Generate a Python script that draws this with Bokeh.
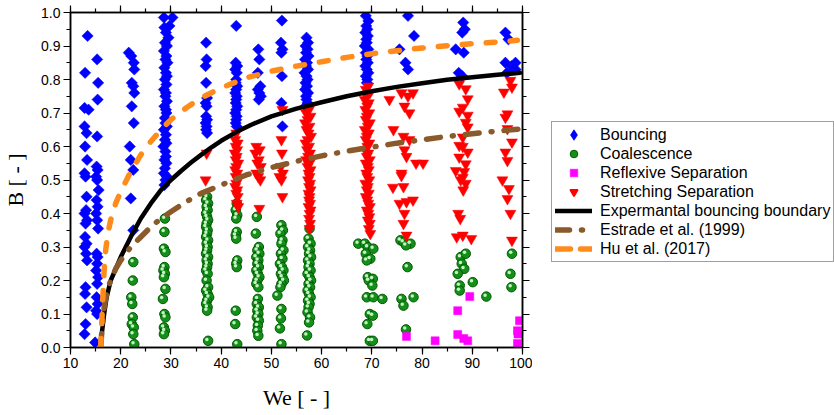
import numpy as np
from bokeh.plotting import figure
from bokeh.layouts import row
from bokeh.models import Range1d, LinearAxis, SingleIntervalTicker, Legend, LegendItem, NumeralTickFormatter
from bokeh.embed import file_html
from bokeh.resources import INLINE

# ---------------- data (We, B) ----------------
bouncing = [
    # We ~ 13
    (13.4,0.93),(12.9,0.82),(12.8,0.715),(13.6,0.71),(12.8,0.66),(13.2,0.64),(12.9,0.60),(13.3,0.56),
    (12.8,0.52),(13.0,0.51),(13.2,0.45),(13.1,0.41),(12.8,0.40),(13.3,0.38),(13.0,0.37),(12.9,0.33),
    (13.2,0.31),(12.8,0.30),(13.1,0.28),(13.3,0.26),(13.0,0.18),(12.9,0.16),(13.2,0.12),(13.0,0.07),(12.8,0.04),
    # We ~ 15
    (15.3,0.86),(15.5,0.79),(15.4,0.74),(15.3,0.63),(15.2,0.54),(15.4,0.53),(15.1,0.51),(15.3,0.50),
    (15.6,0.47),(15.2,0.44),(15.4,0.42),(15.1,0.40),(15.3,0.38),(15.5,0.355),(15.2,0.28),(15.4,0.27),
    (15.3,0.25),(15.1,0.23),(15.5,0.21),(15.3,0.19),(15.2,0.15),(15.4,0.13),(15.1,0.11),(15.3,0.10),(14.9,0.015),
    # We ~ 22
    (21.6,0.88),(22.1,0.87),(22.6,0.85),(22.7,0.83),(22.2,0.79),(22.5,0.78),(22.7,0.76),(22.2,0.72),
    (22.6,0.67),(21.8,0.60),(22.0,0.56),(22.5,0.53),(22.0,0.445),(22.5,0.35),
    # We ~ 29
    (28.6,0.985),(30.3,0.985),(29.7,0.96),(28.7,0.955),(29.0,0.94),(29.5,0.925),(28.8,0.91),(29.2,0.90),
    (28.6,0.885),(29.1,0.87),(28.9,0.86),(29.3,0.85),(28.7,0.835),(29.0,0.82),(29.2,0.81),(28.8,0.80),
    (29.1,0.785),(28.6,0.77),(29.0,0.76),(28.9,0.75),(29.2,0.735),(28.7,0.72),(29.0,0.71),(29.1,0.70),
    (28.8,0.685),(28.9,0.67),(29.2,0.66),(28.6,0.65),(29.0,0.635),(28.8,0.62),(29.1,0.61),(28.5,0.60),
    (28.9,0.585),(29.0,0.57),(28.7,0.56),(29.1,0.55),(28.8,0.535),(28.6,0.52),(29.2,0.51),(28.9,0.50),(28.7,0.485),
    # We ~ 37
    (37.0,0.91),(37.1,0.86),(36.9,0.84),(37.0,0.79),(37.2,0.745),(36.9,0.73),(37.1,0.72),(37.0,0.69),
    (37.2,0.68),(36.9,0.67),(37.1,0.66),(37.0,0.65),(37.2,0.64),
    # We ~ 43
    (43.0,0.96),(42.9,0.85),(43.2,0.84),(42.8,0.83),(43.1,0.82),(43.0,0.80),(42.9,0.79),(43.2,0.78),
    (43.0,0.77),(42.8,0.76),(43.1,0.75),(43.0,0.74),(42.9,0.73),(43.2,0.72),(43.0,0.71),(42.8,0.70),
    (43.1,0.69),(43.0,0.68),(42.9,0.67),(43.1,0.66),
    # We ~ 47
    (47.4,0.89),(47.6,0.86),(47.3,0.82),(47.8,0.78),(47.3,0.77),(47.6,0.76),(47.9,0.75),(47.5,0.74),
    # We ~ 52
    (52.1,0.976),(51.9,0.91),(52.2,0.89),(52.0,0.88),(52.1,0.81),(52.0,0.73),(52.2,0.66),
    # We ~ 57
    (57.0,0.925),(57.3,0.91),(56.8,0.90),(57.2,0.89),(56.9,0.88),(57.4,0.87),(56.7,0.86),(57.1,0.85),
    (56.9,0.84),(57.3,0.83),(56.6,0.82),(57.0,0.81),(57.2,0.80),(56.8,0.79),(57.1,0.78),(56.7,0.77),
    (57.3,0.76),(56.9,0.75),(57.0,0.74),(57.2,0.73),(56.8,0.72),
    # We ~ 69
    (68.8,0.99),(69.3,0.975),(68.9,0.96),(69.1,0.95),(68.7,0.94),(69.2,0.93),(68.9,0.92),(69.0,0.91),
    (68.6,0.90),(69.3,0.89),(68.8,0.88),(69.1,0.87),(68.9,0.86),(69.2,0.85),(68.7,0.84),(69.0,0.83),
    (69.3,0.82),(68.8,0.81),(69.1,0.80),(69.0,0.79),
    # We ~ 77
    (77.2,0.99),(78.4,0.93),(75.5,0.89),(76.7,0.85),(77.2,0.83),
    # We ~ 88
    (88.2,0.97),(88.5,0.95),(88.0,0.94),(86.7,0.89),(88.3,0.88),(87.3,0.82),(88.0,0.81),
    # We ~ 97
    (96.6,0.94),(97.2,0.92),(96.6,0.85),(97.8,0.84),(98.6,0.85),(98.6,0.83),(96.9,0.82),
]

coalescence = [
    # We ~ 22
    (22.5,0.255),(22.4,0.20),(22.1,0.15),(22.3,0.13),(22.4,0.09),(22.2,0.07),(22.6,0.06),(22.5,0.04),(22.7,0.01),
    # We ~ 28.5
    (28.8,0.385),(28.7,0.345),(28.6,0.295),(28.9,0.285),(28.7,0.24),(28.5,0.23),(28.8,0.22),(28.6,0.21),
    (28.9,0.175),(28.4,0.145),(28.7,0.10),(28.9,0.09),(28.6,0.06),(28.8,0.05),(28.6,0.04),
    # We ~ 37
    (37.2,0.45),(37.0,0.44),(37.4,0.43),(37.1,0.42),(37.3,0.41),(37.0,0.40),(37.2,0.39),(37.4,0.38),
    (37.1,0.37),(37.0,0.36),(37.3,0.35),(37.2,0.34),(37.0,0.33),(37.4,0.32),(37.1,0.31),(37.3,0.30),
    (37.2,0.29),(37.0,0.28),(37.4,0.27),(37.1,0.26),(37.3,0.25),(37.2,0.24),(37.0,0.23),(37.3,0.22),
    (37.1,0.20),(37.4,0.18),(37.0,0.17),(37.3,0.16),(37.6,0.15),(37.2,0.14),(37.0,0.13),(37.3,0.12),
    (37.2,0.11),(37.4,0.02),
    # We ~ 43
    (43.1,0.43),(42.9,0.41),(43.2,0.395),(43.0,0.385),(43.1,0.345),(42.9,0.335),(43.0,0.325),(43.2,0.26),
    (43.0,0.25),(43.1,0.24),(42.9,0.11),(42.8,0.07),(43.2,0.01),
    # We ~ 47
    (47.1,0.39),(46.9,0.34),(47.5,0.30),(47.2,0.29),(47.6,0.28),(47.0,0.27),(47.4,0.26),(47.2,0.25),
    (47.5,0.24),(47.0,0.23),(47.3,0.22),(47.6,0.21),(47.2,0.20),(47.0,0.19),(47.4,0.18),(47.3,0.145),
    (47.1,0.13),(47.5,0.12),(47.2,0.11),(47.4,0.10),(47.1,0.09),(47.5,0.08),(47.3,0.065),(47.2,0.05),(47.4,0.035),
    # We ~ 52
    (52.0,0.365),(52.3,0.35),(51.8,0.34),(52.2,0.32),(52.0,0.31),(52.4,0.29),(51.9,0.28),(52.2,0.265),
    (51.7,0.25),(52.1,0.24),(52.4,0.23),(51.9,0.22),(52.2,0.21),(52.5,0.20),(52.0,0.19),(51.8,0.18),
    (51.2,0.155),(52.0,0.115),(51.9,0.087),(51.7,0.057),(52.0,0.01),
    # We ~ 57.5
    (57.6,0.355),(57.4,0.325),(57.8,0.31),(57.3,0.30),(57.7,0.29),(57.5,0.28),(57.9,0.27),(57.3,0.26),
    (57.6,0.25),(57.4,0.24),(57.8,0.23),(57.2,0.22),(57.6,0.21),(57.9,0.20),(57.4,0.19),(57.7,0.18),
    (57.2,0.17),(57.5,0.16),(57.8,0.15),(57.3,0.14),(57.6,0.13),(57.4,0.12),(57.2,0.105),(57.7,0.09),
    (57.5,0.075),(57.1,0.036),
    # We ~ 69
    (67.3,0.31),(68.6,0.31),(69.2,0.30),(70.3,0.295),(68.8,0.28),(69.7,0.265),(69.0,0.26),(69.2,0.21),
    (70.2,0.205),(69.4,0.20),(70.1,0.185),(69.0,0.15),(70.3,0.15),(69.6,0.10),(70.2,0.095),(69.1,0.07),
    (69.6,0.02),(70.2,0.02),
    (72.1,0.145),
    # We ~ 77
    (75.7,0.32),(76.3,0.315),(77.7,0.31),(76.8,0.305),(77.1,0.24),(78.3,0.15),(75.9,0.145),(76.3,0.125),(76.8,0.054),
    # We ~ 88
    (87.7,0.27),(88.7,0.28),(87.9,0.25),(88.4,0.235),(87.1,0.22),(90.1,0.195),(87.5,0.185),(87.5,0.17),
    (92.8,0.152),
    # We ~ 98
    (97.9,0.28),(97.6,0.22),(97.8,0.18),
]

reflexive = [
    (76.9,0.033),(82.6,0.02),(87.1,0.11),(89.5,0.152),(87.1,0.039),(88.3,0.027),(89.1,0.02),
    (99.4,0.08),(99.0,0.05),(99.1,0.04),(99.0,0.012),
]

stretching = [
    (37.1,0.58),(36.9,0.50),
    # We ~ 43
    (43.0,0.64),(42.8,0.62),(43.3,0.61),(42.9,0.60),(43.2,0.59),(42.7,0.58),(43.1,0.57),(42.9,0.56),
    (43.4,0.55),(43.0,0.54),(42.8,0.53),(43.2,0.52),(42.9,0.51),(43.3,0.50),(43.0,0.49),(42.8,0.48),
    (43.2,0.47),(43.0,0.46),(43.3,0.45),(43.1,0.43),(43.4,0.42),
    # We ~ 47
    (47.0,0.60),(47.7,0.59),(46.8,0.58),(47.5,0.56),(47.2,0.55),(47.9,0.54),(47.0,0.52),(47.4,0.51),
    (47.8,0.50),(47.6,0.415),
    # We ~ 52
    (52.2,0.71),(52.0,0.62),(52.1,0.58),(51.9,0.54),(52.3,0.52),(51.6,0.51),(52.0,0.50),(52.2,0.45),
    # We ~ 57
    (57.5,0.71),(56.9,0.70),(57.8,0.69),(57.2,0.68),(56.7,0.67),(57.6,0.66),(57.0,0.65),(57.4,0.64),
    (57.9,0.63),(57.2,0.62),(56.8,0.61),(57.5,0.60),(57.1,0.59),(57.7,0.58),(57.3,0.57),(56.9,0.56),
    (57.6,0.55),(57.2,0.54),(57.8,0.53),(57.4,0.52),(57.6,0.51),(57.3,0.50),(57.7,0.49),(57.5,0.48),
    (57.8,0.47),(57.4,0.46),(57.6,0.45),(57.5,0.44),(57.7,0.43),(57.4,0.42),(57.8,0.41),(57.6,0.40),
    (57.5,0.385),(57.7,0.37),(57.6,0.355),
    # We ~ 69
    (69.3,0.78),(68.8,0.77),(69.6,0.76),(69.0,0.75),(68.6,0.74),(69.4,0.73),(69.1,0.72),(68.7,0.71),
    (69.5,0.70),(69.0,0.69),(68.8,0.68),(69.6,0.67),(69.2,0.66),(68.6,0.65),(69.4,0.64),(69.0,0.63),
    (68.8,0.62),(69.5,0.61),(69.1,0.60),(68.7,0.59),(69.3,0.58),(69.0,0.57),(69.6,0.56),(68.8,0.55),
    (69.2,0.54),(69.4,0.53),(68.9,0.52),(69.1,0.51),(69.5,0.50),(68.7,0.49),(69.2,0.48),(69.0,0.47),
    (69.4,0.46),(68.8,0.45),(69.1,0.44),(69.3,0.43),(69.6,0.42),(69.0,0.41),(69.3,0.40),(69.5,0.39),
    (69.2,0.38),(69.6,0.37),(69.4,0.355),(69.7,0.34),
    # We ~ 77
    (73.5,0.74),(75.9,0.76),(77.2,0.75),(78.2,0.76),(76.5,0.72),(77.5,0.70),(74.3,0.65),(76.3,0.63),
    (77.5,0.62),(76.5,0.59),(76.9,0.57),(78.8,0.55),(80.2,0.55),(75.9,0.52),(75.9,0.513),(74.2,0.478),
    (76.3,0.48),(75.5,0.43),(76.9,0.435),(78.2,0.44),(76.5,0.40),(76.3,0.37),(76.9,0.335),
    # We ~ 88
    (87.4,0.787),(88.7,0.772),(89.1,0.742),(88.1,0.717),(87.4,0.705),(89.1,0.693),(88.7,0.672),(89.1,0.658),
    (88.1,0.628),(87.4,0.603),(88.1,0.60),(89.1,0.583),(87.4,0.568),(88.7,0.548),(86.7,0.528),(88.4,0.525),
    (88.1,0.508),(87.7,0.50),(88.7,0.49),(88.2,0.47),(87.2,0.40),(87.6,0.385),(86.9,0.33),(88.1,0.335),(89.8,0.325),
    # We ~ 97
    (97.6,0.797),(97.9,0.777),(96.3,0.762),(97.0,0.697),(96.6,0.687),(97.0,0.653),(97.9,0.613),(96.6,0.583),
    (97.0,0.558),(96.0,0.50),(97.3,0.474),(97.0,0.444),(97.6,0.40),(97.9,0.32),
]

exp_we = [16.0,16.3,16.7,17.2,18,19,20,22,24,26,28,30,32,34,36,38,40,43,46,50,55,60,65,70,75,80,85,90,95,99.5]
exp_b  = [0.0,0.05,0.10,0.15,0.20,0.235,0.27,0.33,0.385,0.43,0.47,0.50,0.527,0.552,0.575,0.597,0.617,0.643,0.665,0.69,0.713,0.732,0.75,0.765,0.778,0.789,0.799,0.807,0.814,0.82]

estrade_we = [16.0,16.3,16.7,17.3,18,19,20,22,24,26,28,30,33,36,40,45,50,55,60,65,70,75,80,85,90,95,100]
estrade_b  = [0.0,0.06,0.12,0.17,0.20,0.235,0.26,0.30,0.33,0.36,0.385,0.405,0.435,0.46,0.485,0.515,0.537,0.556,0.572,0.586,0.598,0.61,0.62,0.63,0.638,0.646,0.653]

hu_we = [16.0,16.15,16.3,16.5,16.7,17,17.5,18,19,20,22,24,26,28,30,33,36,40,45,50,55,60,65,70,75,80,85,90,95,99]
hu_b  = [0.0,0.05,0.10,0.17,0.23,0.29,0.345,0.38,0.43,0.465,0.525,0.575,0.615,0.65,0.68,0.715,0.745,0.775,0.805,0.825,0.84,0.853,0.866,0.877,0.886,0.894,0.901,0.907,0.912,0.917]

legend_labels = ["Bouncing", "Coalescence", "Reflexive Separation", "Stretching Separation",
                 "Expermantal bouncing boundary", "Estrade et al. (1999)", "Hu et al. (2017)"]

x_ticks_interval = 10
y_ticks_interval = 0.1

BLUE, GREEN, GREEN_EDGE, MAGENTA, RED = "#0000ff", "#14901a", "#005a00", "#ff00ff", "#ff0000"
BROWN, ORANGE = "#8b5a2b", "#ff8c1a"

# ---------------- main figure ----------------
p = figure(width=532, height=415, output_backend="svg", toolbar_location=None,
           x_range=Range1d(10, 100), y_range=Range1d(0, 1.0),
           min_border_left=67, min_border_right=10, min_border_top=12, min_border_bottom=68)
p.grid.visible = False
p.background_fill_color = "white"
p.border_fill_color = "white"
p.outline_line_color = "black"
p.outline_line_width = 1.5

def style_axis(ax, labels=True):
    ax.axis_line_color = "black"
    ax.axis_line_width = 1.5
    ax.major_tick_line_color = "black"
    ax.minor_tick_line_color = "black"
    ax.major_tick_line_width = 1.2
    ax.minor_tick_line_width = 1.2
    ax.major_tick_in = 0
    ax.major_tick_out = 7
    ax.minor_tick_in = 0
    ax.minor_tick_out = 4
    if labels:
        ax.major_label_text_font = "Liberation Sans"
        ax.major_label_text_font_size = "14px"
        ax.major_label_text_color = "black"
        ax.major_label_standoff = 3
        ax.axis_label_text_font = "Liberation Serif"
        ax.axis_label_text_font_size = "22px"
        ax.axis_label_text_font_style = "normal"
        ax.axis_label_text_color = "black"
    else:
        ax.major_label_text_font_size = "1px"
        ax.major_label_text_color = None
        ax.major_label_standoff = 0

xax = p.xaxis[0]
xax.ticker = SingleIntervalTicker(interval=x_ticks_interval, num_minor_ticks=2)
xax.axis_label = "We [ - ]"
style_axis(xax)
xax.axis_label_standoff = 14

yax = p.yaxis[0]
yax.ticker = SingleIntervalTicker(interval=y_ticks_interval, num_minor_ticks=2)
yax.formatter = NumeralTickFormatter(format="0.0")
yax.axis_label = "B [ - ]"
style_axis(yax)
yax.axis_label_standoff = 10

top = LinearAxis(ticker=SingleIntervalTicker(interval=x_ticks_interval, num_minor_ticks=2))
style_axis(top, labels=False)
p.add_layout(top, "above")
right = LinearAxis(ticker=SingleIntervalTicker(interval=y_ticks_interval, num_minor_ticks=2))
style_axis(right, labels=False)
p.add_layout(right, "right")

bx, by = zip(*bouncing)
cx, cy = zip(*coalescence)
rx, ry = zip(*reflexive)
sx, sy = zip(*stretching)

p.scatter(list(bx), list(by), marker="square", angle=np.pi / 4, size=8,
          fill_color=BLUE, line_color=BLUE, line_width=0.5)
p.scatter(list(cx), list(cy), marker="circle", size=9.5,
          fill_color=GREEN, line_color=GREEN_EDGE, line_width=1)
p.scatter([v - 0.25 for v in cx], [v + 0.004 for v in cy], marker="circle", size=3.5,
          fill_color="#c4f2c4", line_color=None)
p.scatter(list(rx), list(ry), marker="square", size=8,
          fill_color=MAGENTA, line_color=MAGENTA, line_width=0.5)
p.scatter(list(sx), list(sy), marker="inverted_triangle", size=11,
          fill_color=RED, line_color=RED, line_width=0.5)

p.line(exp_we, exp_b, line_color="black", line_width=4.5, line_cap="round")
p.line(estrade_we, estrade_b, line_color=BROWN, line_width=5.5, line_dash="14 12 1 12", line_cap="round")
p.line(hu_we, hu_b, line_color=ORANGE, line_width=5.5, line_dash="9 15", line_cap="round")

# ---------------- legend panel (second figure; its glyph renderers lie outside its view) ----------------
q = figure(width=302, height=415, output_backend="svg", toolbar_location=None,
           x_range=Range1d(0, 1), y_range=Range1d(0, 1),
           x_axis_type=None, y_axis_type=None,
           min_border_left=0, min_border_right=0, min_border_top=12, min_border_bottom=68)
q.outline_line_color = None
q.background_fill_color = "white"
q.border_fill_color = "white"

g_b = q.scatter(list(bx[:1]), list(by[:1]), marker="diamond", size=8, fill_color=BLUE, line_color=BLUE,
                line_width=2.2, line_join="miter")
g_c = q.scatter(list(cx[:1]), list(cy[:1]), marker="circle", size=8, fill_color=GREEN,
                line_color=GREEN_EDGE, line_width=1)
g_r = q.scatter(list(rx[:1]), list(ry[:1]), marker="square", size=8, fill_color=MAGENTA,
                line_color=MAGENTA, line_width=0.5)
g_s = q.scatter(list(sx[:1]), list(sy[:1]), marker="inverted_triangle", size=8, fill_color=RED,
                line_color=RED, line_width=1.6)
g_e = q.line(exp_we[:2], exp_b[:2], line_color="black", line_width=4.5, line_cap="round")
g_t = q.line(estrade_we[:2], estrade_b[:2], line_color=BROWN, line_width=5.5,
             line_dash="14 12 1 12", line_cap="round")
g_h = q.line(hu_we[:2], hu_b[:2], line_color=ORANGE, line_width=5.5, line_dash="15 10", line_cap="round")

legend = Legend(items=[LegendItem(label=lab, renderers=[r]) for lab, r in
                       zip(legend_labels, [g_b, g_c, g_r, g_s, g_e, g_t, g_h])],
                location=(19, 85))
legend.border_line_color = "#404040"
legend.border_line_width = 1.2
legend.background_fill_color = "white"
legend.background_fill_alpha = 1.0
legend.label_text_font = "Liberation Sans"
legend.label_text_font_size = "16px"
legend.label_text_color = "black"
legend.glyph_width = 37
legend.glyph_height = 19
legend.label_height = 19
legend.spacing = 0
legend.padding = 3
legend.margin = 0
legend.label_standoff = 8
q.add_layout(legend)

open("out.html", "w").write(file_html(row(p, q, spacing=0), INLINE))
